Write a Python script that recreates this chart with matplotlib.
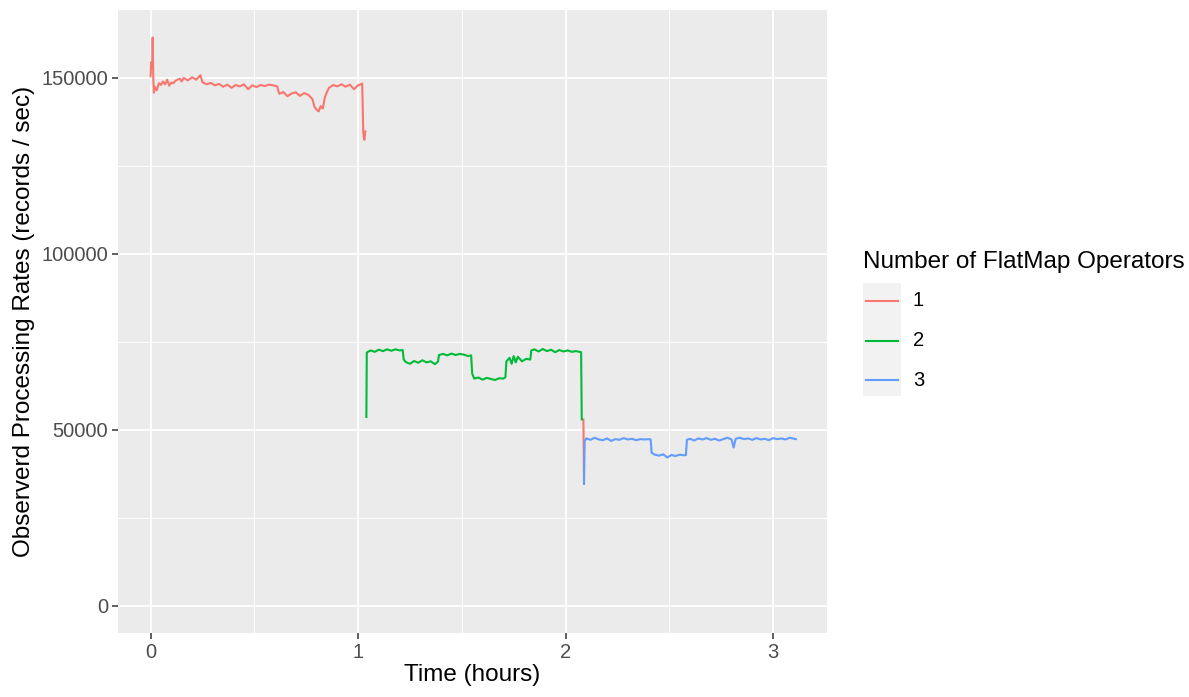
import numpy as np
import matplotlib
matplotlib.use("Agg")
import matplotlib.pyplot as plt
from matplotlib.lines import Line2D
from matplotlib.patches import Rectangle

plt.rcParams['font.family'] = ['Liberation Sans', 'DejaVu Sans']

# data (time in hours, rate in records/sec)
t1 = [0.000, 0.003, 0.008, 0.010, 0.013, 0.016, 0.020, 0.03, 0.04, 0.05, 0.06, 0.07, 0.08, 0.09,
      0.10, 0.11, 0.12, 0.14, 0.15, 0.16, 0.18, 0.20, 0.22, 0.24, 0.25, 0.27, 0.29, 0.31, 0.33,
      0.35, 0.37, 0.39, 0.41, 0.43, 0.45, 0.47, 0.49, 0.51, 0.53, 0.55, 0.57, 0.59, 0.61, 0.62,
      0.64, 0.66, 0.68, 0.70, 0.72, 0.74, 0.76, 0.78, 0.79, 0.80, 0.81, 0.82, 0.83, 0.84, 0.85,
      0.86, 0.88, 0.90, 0.92, 0.94, 0.96, 0.98, 1.00, 1.02, 1.025, 1.03, 1.035,
      1.04, 2.086, 2.089]
v1 = [150500, 154500, 153000, 161500, 150000, 145800, 147500, 146500, 148500, 148000, 149000,
      148200, 149500, 147800, 148700, 148500, 149200, 149800, 149000, 150000, 149300, 150200,
      149500, 150800, 148800, 148200, 148600, 147900, 148300, 147500, 148100, 147200, 148000,
      147600, 148200, 146800, 147900, 147400, 148000, 147700, 148100, 147900, 147600, 145500,
      146000, 144800, 145600, 145900, 144900, 145700, 145200, 144000, 141800, 141000, 140500,
      142000, 141300, 144500, 146000, 147200, 148000, 147600, 148200, 147500, 148100, 146800,
      147900, 148400, 134500, 132400, 134800,
      np.nan, 53000, 34700]

t2 = [1.040, 1.042, 1.06, 1.08, 1.10, 1.12, 1.14, 1.16, 1.18, 1.20, 1.215, 1.22, 1.23, 1.25,
      1.27, 1.29, 1.31, 1.33, 1.35, 1.37, 1.385, 1.39, 1.41, 1.43, 1.45, 1.47, 1.49, 1.51, 1.53,
      1.545, 1.55, 1.56, 1.58, 1.60, 1.62, 1.64, 1.66, 1.68, 1.70, 1.71, 1.715, 1.73, 1.74, 1.75,
      1.76, 1.77, 1.79, 1.81, 1.83, 1.835, 1.85, 1.87, 1.89, 1.91, 1.93, 1.95, 1.97, 1.99, 2.01,
      2.03, 2.05, 2.075, 2.078]
v2 = [53700, 72000, 72600, 72200, 72800, 72400, 72900, 72500, 72900, 72600, 72700, 70000, 69300,
      68800, 69600, 69100, 69800, 69200, 69500, 68700, 69400, 71300, 71600, 71200, 71700, 71300,
      71600, 71400, 71000, 71200, 66000, 64600, 64900, 64300, 64800, 64500, 64200, 64700, 64600,
      65000, 69500, 70500, 68800, 71000, 69200, 70800, 69500, 70200, 70000, 72600, 72900, 72300,
      73000, 72400, 72800, 72100, 72700, 72300, 72600, 72200, 72400, 72100, 53000]

t3 = [2.089, 2.092, 2.10, 2.12, 2.14, 2.16, 2.18, 2.20, 2.22, 2.24, 2.26, 2.28, 2.30, 2.32, 2.34,
      2.36, 2.38, 2.40, 2.41, 2.415, 2.43, 2.45, 2.47, 2.49, 2.51, 2.53, 2.55, 2.57, 2.58, 2.585,
      2.60, 2.62, 2.64, 2.66, 2.68, 2.70, 2.72, 2.74, 2.76, 2.78, 2.80, 2.81, 2.82, 2.84, 2.86,
      2.88, 2.90, 2.92, 2.94, 2.96, 2.98, 3.00, 3.02, 3.04, 3.06, 3.08, 3.11]
v3 = [34700, 46800, 47600, 47200, 47800, 47300, 47100, 47600, 46900, 47400, 47200, 47700, 47300,
      47500, 47100, 47400, 47300, 47400, 47300, 43500, 43000, 42700, 43100, 42200, 42900, 42600,
      43000, 42800, 42900, 47200, 47500, 47000, 47600, 47300, 47700, 47200, 47500, 47000, 47400,
      47800, 47300, 45000, 47500, 47800, 47400, 47600, 47200, 47700, 47300, 47500, 47100, 47700,
      47400, 47600, 47300, 47800, 47400]

labels = ['1', '2', '3']
colors = ['#F8766D', '#00BA38', '#619CFF']
x_ticks = [0, 1, 2, 3]
y_ticks = [0, 50000, 100000, 150000]

fig = plt.figure(figsize=(11.89, 6.97), dpi=100)
ax = fig.add_axes([118/1189, 1-633/697, (827-118)/1189, (633-10)/697])
ax.set_facecolor('#EBEBEB')

for t, v, c in zip([t1, t2, t3], [v1, v2, v3], colors):
    ax.plot(t, v, color=c, lw=1.5, zorder=3)

ax.set_xlim(-0.157, 3.26)
ax.set_ylim(-7670, 169300)
ax.set_xticks(x_ticks)
ax.set_yticks(y_ticks)
ax.set_xticks([0.5, 1.5, 2.5], minor=True)
ax.set_yticks([25000, 75000, 125000], minor=True)
ax.grid(which='major', color='white', lw=1.3)
ax.grid(which='minor', color='white', lw=0.65)
ax.set_axisbelow(True)
for s in ax.spines.values():
    s.set_visible(False)
ax.tick_params(which='major', length=4, width=1.1, color='#333333', labelcolor='#4D4D4D',
               labelsize=14.5, pad=3)
ax.tick_params(which='minor', length=0)
ax.set_xlabel('Time (hours)', fontsize=17.5, color='black', labelpad=2)
ax.set_ylabel('Observerd Processing Rates (records / sec)', fontsize=17.5, color='black', labelpad=5)

# legend
fig.text(863/1189, 1-262/697, 'Number of FlatMap Operators', fontsize=17.5, va='center', ha='left')
fig.add_artist(Rectangle((863/1189, 1-396/697), 38/1189, 113/697,
                         transform=fig.transFigure, facecolor='#F2F2F2', edgecolor='none'))
for i, (lab, c) in enumerate(zip(labels, colors)):
    yy = 1-(301+39.5*i)/697
    fig.add_artist(Line2D([866/1189, 898/1189], [yy, yy], transform=fig.transFigure,
                          color=c, lw=1.5))
    fig.text(913/1189, yy, lab, fontsize=14.5, va='center', ha='left')

fig.savefig('out.png', dpi=100)
